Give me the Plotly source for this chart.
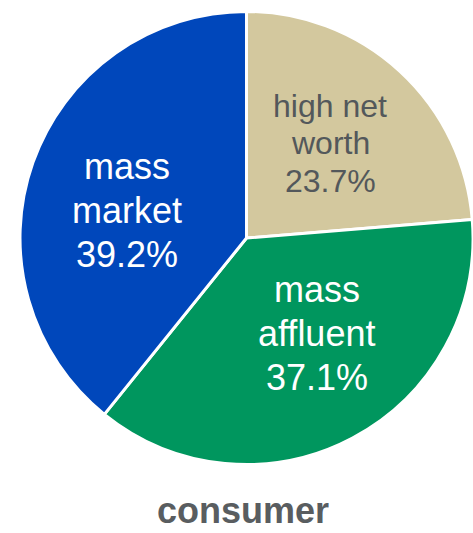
import math
import plotly.graph_objects as go

segments = ["high net<br>worth", "mass<br>affluent", "mass<br>market"]
shares = [23.7, 37.1, 39.2]
slice_colors = ["#D3C89E", "#00965E", "#0047BB"]
text_colors = ["#53585B", "#FFFFFF", "#FFFFFF"]
title_text = "consumer"

W, H = 473, 533
FONT = "Liberation Sans, Arial, sans-serif"

# pie placement (pixels) -> paper domain
cx, cy, R = 246.5, 238.0, 226.5
dom_x = [max(0.0, (cx - R) / W), min(1.0, (cx + R) / W)]
dom_y = [max(0.0, 1 - (cy + R) / H), min(1.0, 1 - (cy - R) / H)]

fig = go.Figure(
    go.Pie(
        labels=segments,
        values=shares,
        sort=False,
        direction="clockwise",
        rotation=0,
        marker=dict(colors=slice_colors, line=dict(color="#FFFFFF", width=3)),
        textinfo="none",
        hoverinfo="skip",
        showlegend=False,
        domain=dict(x=dom_x, y=dom_y),
    )
)

# label placement: angle tweak (deg), radial fraction, font size and line pitch per slice
angle_shift = [-1.2, -8.4, -6.3]
radial_frac = [0.559, 0.524, 0.542]
label_sizes = [32, 36, 36]
line_pitch = [37.5, 44.0, 44.0]

total = sum(shares)
cum = 0.0
for name, v, col, da, rf, fs, lp in zip(segments, shares, text_colors,
                                        angle_shift, radial_frac, label_sizes, line_pitch):
    mid = (cum + v / 2) / total * 360 + da
    cum += v
    t = math.radians(mid)
    px = cx + rf * R * math.sin(t)
    py = cy - rf * R * math.cos(t)
    lines = name.split("<br>") + [f"{v:.1f}%"]
    n = len(lines)
    for i, line in enumerate(lines):
        ly = py + (i - (n - 1) / 2) * lp
        fig.add_annotation(
            text=line,
            x=px / W, y=1 - ly / H, xref="paper", yref="paper",
            xanchor="center", yanchor="middle", showarrow=False, align="center",
            font=dict(family=FONT, size=fs, color=col),
        )

fig.add_annotation(
    text="<b>" + title_text + "</b>",
    x=243.5 / W, y=0.0, xref="paper", yref="paper",
    xanchor="center", yanchor="bottom", showarrow=False,
    font=dict(family=FONT, size=36, color="#595D60"),
)

fig.update_layout(
    width=W, height=H,
    margin=dict(l=0, r=0, t=0, b=0),
    paper_bgcolor="#FFFFFF", plot_bgcolor="#FFFFFF",
)

fig.write_html("out.html")
